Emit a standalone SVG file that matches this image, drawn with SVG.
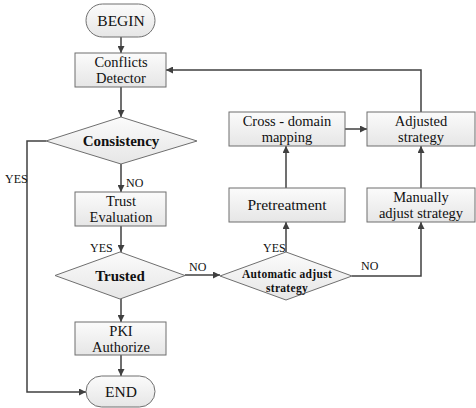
<svg xmlns="http://www.w3.org/2000/svg" width="476" height="408" viewBox="0 0 476 408">
<defs>
<linearGradient id="g" x1="0" y1="0" x2="0" y2="1">
<stop offset="0" stop-color="#fbfbfb"/>
<stop offset="1" stop-color="#e6e6e6"/>
</linearGradient>
<marker id="a" viewBox="0 0 10 10" refX="10" refY="5" markerWidth="7" markerHeight="7" markerUnits="userSpaceOnUse" orient="auto">
<path d="M0,0 L10,5 L0,10 z" fill="#404040"/>
</marker>
<style>
.s{fill:url(#g);stroke:#6f6f6f;stroke-width:1}
.t{font-size:15.5px;text-anchor:middle}
.t2{font-size:14.5px;text-anchor:middle}
.b{font-weight:bold;font-size:15px}
.sm{font-size:12px}
.ab{font-size:11.5px;font-weight:bold;text-anchor:middle;letter-spacing:0.3px}
.c{fill:none;stroke:#404040;stroke-width:1.5;marker-end:url(#a)}
</style>
</defs>
<rect width="476" height="408" fill="#fff"/>
<g font-family="Liberation Serif, Times New Roman, DejaVu Serif, serif" fill="#111">
<g id="connectors">
<path class="c" d="M121,37 V53"/>
<path class="c" d="M121,87 V117"/>
<path class="c" d="M121,164 V192"/>
<path class="c" d="M121,226 V252"/>
<path class="c" d="M121,299 V322"/>
<path class="c" d="M121,355 V376"/>
<path class="c" d="M46,141 H27 V392 H86"/>
<path class="c" d="M185,275 H220"/>
<path class="c" d="M286,252 V222"/>
<path class="c" d="M286,188 V146"/>
<path class="c" d="M345,129 H367"/>
<path class="c" d="M352,276 H421 V222"/>
<path class="c" d="M421,188 V146"/>
<path class="c" d="M421,112 V70 H166"/>
<text class="sm" x="126" y="187">NO</text>
<text class="sm" x="90" y="252">YES</text>
<text class="sm" x="5" y="183">YES</text>
<text class="sm" x="189" y="271">NO</text>
<text class="sm" x="263" y="252">YES</text>
<text class="sm" x="361" y="270">NO</text>
</g>
<g id="begin">
<rect class="s" x="86" y="4" width="69" height="33" rx="16.5"/>
<text class="t" x="121" y="26">BEGIN</text>
</g>
<g id="conflicts">
<rect class="s" x="75" y="53" width="91" height="34"/>
<text class="t2" x="121" y="67">Conflicts</text>
<text class="t2" x="121" y="83">Detector</text>
</g>
<g id="consistency">
<path class="s" d="M121,117 L197,141 L121,164 L46,141 z"/>
<text class="t b" x="121" y="146">Consistency</text>
</g>
<g id="trust">
<rect class="s" x="75" y="192" width="91" height="34"/>
<text class="t2" x="121" y="206">Trust</text>
<text class="t2" x="121" y="222">Evaluation</text>
</g>
<g id="trusted">
<path class="s" d="M120,252 L185,275.5 L120,299 L55,275.5 z"/>
<text class="t b" x="120" y="280.5">Trusted</text>
</g>
<g id="pki">
<rect class="s" x="75" y="322" width="91" height="33"/>
<text class="t2" x="121" y="335.5">PKI</text>
<text class="t2" x="121" y="351.5">Authorize</text>
</g>
<g id="end">
<rect class="s" x="86" y="376" width="69" height="31" rx="15.5"/>
<text class="t" x="121" y="397">END</text>
</g>
<g id="automatic">
<path class="s" d="M286,252 L352,276 L286,300 L220,276 z"/>
<text class="ab" x="287" y="278">Automatic adjust</text>
<text class="ab" x="287" y="292">strategy</text>
</g>
<g id="pretreatment">
<rect class="s" x="229" y="188" width="116" height="34"/>
<text class="t" x="287" y="210">Pretreatment</text>
</g>
<g id="crossdomain">
<rect class="s" x="229" y="112" width="116" height="34"/>
<text class="t2" x="287" y="126">Cross - domain</text>
<text class="t2" x="287" y="142">mapping</text>
</g>
<g id="adjusted">
<rect class="s" x="367" y="112" width="108" height="34"/>
<text class="t2" x="421" y="126">Adjusted</text>
<text class="t2" x="421" y="142">strategy</text>
</g>
<g id="manually">
<rect class="s" x="367" y="188" width="108" height="34"/>
<text class="t2" x="421" y="202">Manually</text>
<text class="t2" x="421" y="218">adjust strategy</text>
</g>
</g>
</svg>
